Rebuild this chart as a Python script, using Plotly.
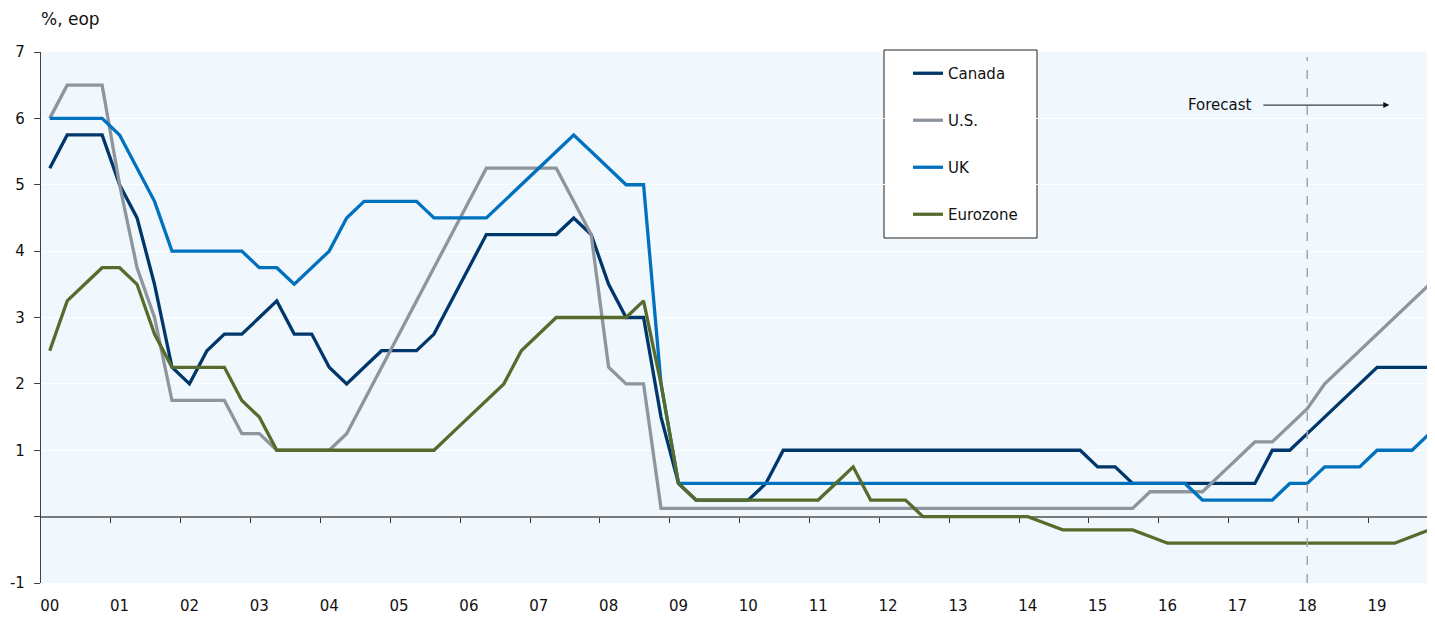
import plotly.graph_objects as go

# ---- data (quarterly, end of period, %) ----
years = ["00", "01", "02", "03", "04", "05", "06", "07", "08", "09",
         "10", "11", "12", "13", "14", "15", "16", "17", "18", "19"]
quarters = [f"{y}Q{q}" for y in years for q in (1, 2, 3, 4)]

canada = [5.25, 5.75, 5.75, 5.75, 5.0, 4.5, 3.5, 2.25,
          2.0, 2.5, 2.75, 2.75, 3.0, 3.25, 2.75, 2.75,
          2.25, 2.0, 2.25, 2.5, 2.5, 2.5, 2.75, 3.25,
          3.75, 4.25, 4.25, 4.25, 4.25, 4.25, 4.5, 4.25,
          3.5, 3.0, 3.0, 1.5, 0.5, 0.25, 0.25, 0.25,
          0.25, 0.5, 1.0, 1.0, 1.0, 1.0, 1.0, 1.0,
          1.0, 1.0, 1.0, 1.0, 1.0, 1.0, 1.0, 1.0,
          1.0, 1.0, 1.0, 1.0, 0.75, 0.75, 0.5, 0.5,
          0.5, 0.5, 0.5, 0.5, 0.5, 0.5, 1.0, 1.0,
          1.25, 1.5, 1.75, 2.0, 2.25, 2.25, 2.25, 2.25]

us = [6.0, 6.5, 6.5, 6.5, 5.0, 3.75, 3.0, 1.75,
      1.75, 1.75, 1.75, 1.25, 1.25, 1.0, 1.0, 1.0,
      1.0, 1.25, 1.75, 2.25, 2.75, 3.25, 3.75, 4.25,
      4.75, 5.25, 5.25, 5.25, 5.25, 5.25, 4.75, 4.25,
      2.25, 2.0, 2.0, 0.125, 0.125, 0.125, 0.125, 0.125,
      0.125, 0.125, 0.125, 0.125, 0.125, 0.125, 0.125, 0.125,
      0.125, 0.125, 0.125, 0.125, 0.125, 0.125, 0.125, 0.125,
      0.125, 0.125, 0.125, 0.125, 0.125, 0.125, 0.125, 0.375,
      0.375, 0.375, 0.375, 0.625, 0.875, 1.125, 1.125, 1.375,
      1.625, 2.0, 2.25, 2.5, 2.75, 3.0, 3.25, 3.5]

uk = [6.0, 6.0, 6.0, 6.0, 5.75, 5.25, 4.75, 4.0,
      4.0, 4.0, 4.0, 4.0, 3.75, 3.75, 3.5, 3.75,
      4.0, 4.5, 4.75, 4.75, 4.75, 4.75, 4.5, 4.5,
      4.5, 4.5, 4.75, 5.0, 5.25, 5.5, 5.75, 5.5,
      5.25, 5.0, 5.0, 2.0, 0.5, 0.5, 0.5, 0.5,
      0.5, 0.5, 0.5, 0.5, 0.5, 0.5, 0.5, 0.5,
      0.5, 0.5, 0.5, 0.5, 0.5, 0.5, 0.5, 0.5,
      0.5, 0.5, 0.5, 0.5, 0.5, 0.5, 0.5, 0.5,
      0.5, 0.5, 0.25, 0.25, 0.25, 0.25, 0.25, 0.5,
      0.5, 0.75, 0.75, 0.75, 1.0, 1.0, 1.0, 1.25]

eurozone = [2.5, 3.25, 3.5, 3.75, 3.75, 3.5, 2.75, 2.25,
            2.25, 2.25, 2.25, 1.75, 1.5, 1.0, 1.0, 1.0,
            1.0, 1.0, 1.0, 1.0, 1.0, 1.0, 1.0, 1.25,
            1.5, 1.75, 2.0, 2.5, 2.75, 3.0, 3.0, 3.0,
            3.0, 3.0, 3.25, 2.0, 0.5, 0.25, 0.25, 0.25,
            0.25, 0.25, 0.25, 0.25, 0.25, 0.5, 0.75, 0.25,
            0.25, 0.25, 0.0, 0.0, 0.0, 0.0, 0.0, 0.0,
            0.0, -0.1, -0.2, -0.2, -0.2, -0.2, -0.2, -0.3,
            -0.4, -0.4, -0.4, -0.4, -0.4, -0.4, -0.4, -0.4,
            -0.4, -0.4, -0.4, -0.4, -0.4, -0.4, -0.3, -0.2]

series_names = ["Canada", "U.S.", "UK", "Eurozone"]
series_colors = ["#00376B", "#8E959C", "#0071BD", "#566B2C"]
y_ticks = [-1, 0, 1, 2, 3, 4, 5, 6, 7]
y_ticktext = ["-1", "", "1", "2", "3", "4", "5", "6", "7"]
forecast_start = "18Q1"

x = list(range(len(quarters)))
label_pos = [quarters.index(f"{y}Q1") for y in years]
year_bounds = [quarters.index(f"{y}Q1") - 0.5 for y in years[1:]]
fx = quarters.index(forecast_start)

FONT = "DejaVu Sans"
fig = go.Figure()
for name, vals, col in zip(series_names, [canada, us, uk, eurozone], series_colors):
    fig.add_trace(go.Scatter(x=x, y=vals, mode="lines", name=name,
                             legendgroup=name,
                             line=dict(color=col, width=3.3),
                             hoverinfo="skip"))

# page body has an 8px margin; figure is sized so the plot lands at
# screen x 41..1433, y 52..583
OFF = 8
W, H = 1435 - OFF, 619 - OFF
ml, mr, mt, mb = 41 - OFF, 2, 52 - OFF, 36
pw = W - ml - mr
ph = H - mt - mb


def px_x(p):
    return (p - OFF - ml) / pw


def px_y(p):
    return (H - mb - (p - OFF)) / ph


fig.update_layout(
    width=W, height=H,
    margin=dict(l=ml, r=mr, t=mt, b=mb, pad=0),
    paper_bgcolor="white",
    plot_bgcolor="#F0F7FD",
    font=dict(family=FONT, size=15, color="#111111"),
    showlegend=True,
    legend=dict(x=px_x(908), y=px_y(57), xanchor="left", yanchor="top",
                bgcolor="rgba(0,0,0,0)", borderwidth=0,
                font=dict(family=FONT, size=15, color="#111111"),
                tracegroupgap=24.5, itemwidth=30),
    xaxis=dict(range=[-0.5, 79.2], tickmode="array", tickvals=label_pos,
               ticktext=years, ticks="", showgrid=False, zeroline=False,
               showline=False, ticklabelstandoff=12,
               tickfont=dict(family=FONT, size=15, color="#111111")),
    xaxis2=dict(range=[-0.5, 79.2], overlaying="x", anchor="free",
                position=1 / 8, tickmode="array", tickvals=year_bounds,
                ticks="outside", ticklen=5, tickwidth=1.3, tickcolor="#333333",
                showticklabels=False, showgrid=False, zeroline=False,
                showline=False),
    yaxis=dict(range=[-1, 7], tickmode="array", tickvals=y_ticks,
               ticktext=y_ticktext, ticks="outside", ticklen=6,
               tickcolor="#404040", tickwidth=1.3,
               showline=True, linecolor="#404040", linewidth=1.3,
               showgrid=True, gridcolor="white", gridwidth=1.2,
               zeroline=True, zerolinecolor="#7A7A7A", zerolinewidth=2,
               ticklabelstandoff=6,
               tickfont=dict(family=FONT, size=15, color="#111111")),
)

# invisible trace to activate xaxis2
fig.add_trace(go.Scatter(x=[x[0]], y=[None], xaxis="x2", showlegend=False,
                         hoverinfo="skip", mode="lines"))

# legend box
fig.add_shape(type="rect", xref="paper", yref="paper",
              x0=px_x(884), x1=px_x(1037), y0=px_y(238), y1=px_y(50),
              fillcolor="white", line=dict(color="#222222", width=1),
              layer="below")

# forecast divider
fig.add_shape(type="line", xref="x", yref="paper", x0=fx, x1=fx,
              y0=0, y1=px_y(57),
              line=dict(color="#A6A6A6", width=1.5, dash="dash"))

# Forecast label and arrow
fig.add_annotation(x=fx - 5, y=6.2, xref="x", yref="y", text="Forecast",
                   showarrow=False, xanchor="center", yanchor="middle",
                   font=dict(family=FONT, size=15, color="#111111"))
fig.add_annotation(x=fx + 4.7, y=6.2, ax=fx - 2.6, ay=6.2,
                   xref="x", yref="y", axref="x", ayref="y", text="",
                   showarrow=True, arrowhead=2, arrowsize=1.2, arrowwidth=1,
                   arrowcolor="#111111")

# unit label
fig.add_annotation(x=px_x(40), y=px_y(OFF), xref="paper", yref="paper",
                   text="%, eop", showarrow=False, xanchor="left",
                   yanchor="top", borderpad=0,
                   font=dict(family=FONT, size=17, color="#111111"))

fig.write_html("out.html")
